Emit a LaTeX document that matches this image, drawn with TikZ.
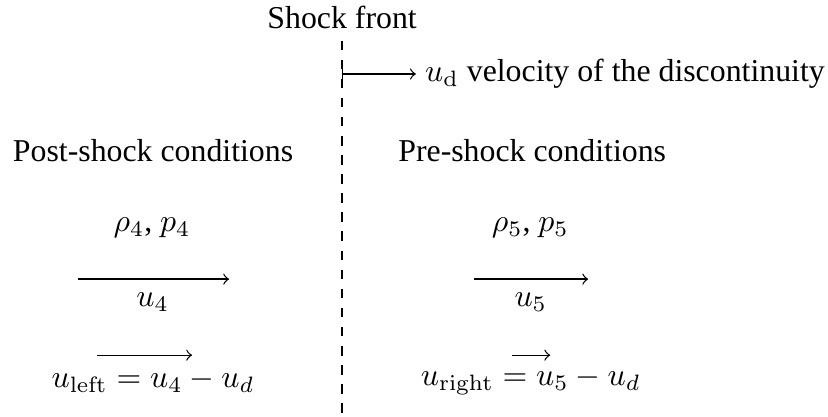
\documentclass[tikz,border=0pt]{standalone}
\usepackage[no-math]{fontspec}
\setmainfont{Liberation Serif}
\usepackage{amsmath}
\usepackage{tikz}
\usetikzlibrary{calc}

\begin{document}
\begin{tikzpicture}[
    scale        = 0.943,
    lbl/.style   = {inner sep=0pt, anchor=center},
    vel/.style   = {->, thin},
    front/.style = {dashed, thin}
  ]
    \useasboundingbox (0,0) rectangle (9.70,-4.875);

    % shock front
    \coordinate (ftop) at (4.008,-0.475);
    \coordinate (fbot) at (4.008,-4.875);
    \draw[front] (ftop) -- (fbot);
    \node[lbl] (title) at (4.008,-0.205) {Shock front};

    \coordinate (ud0) at (4.008,-0.867);
    \node[lbl, anchor=east] (udlbl) at (9.669,-0.867) {$u_\mathrm{d}$ velocity of the discontinuity};
    \draw[|->, thin] (ud0) -- ($(udlbl.west)+(-0.10,0)$);

    % post-shock side
    \node[lbl] (post) at (1.793,-1.770) {Post-shock conditions};
    \node[lbl] (stl)  at (1.781,-2.672) {$\rho_4$, $p_4$};
    \coordinate (al0) at (0.914,-3.270);
    \coordinate (al1) at (2.684,-3.270);
    \draw[vel] (al0) -- (al1);
    \node[lbl] (ul)   at (1.787,-3.540) {$u_4$};
    \coordinate (bl0) at (1.137,-4.161);
    \coordinate (bl1) at (2.250,-4.161);
    \draw[vel] (bl0) -- (bl1);
    \node[lbl] (rell) at (1.793,-4.460) {$u_\mathrm{left} = u_4 - u_d$};

    % pre-shock side
    \node[lbl] (pre)  at (6.235,-1.770) {Pre-shock conditions};
    \node[lbl] (str)  at (6.212,-2.672) {$\rho_5$, $p_5$};
    \coordinate (ar0) at (5.555,-3.270);
    \coordinate (ar1) at (6.891,-3.270);
    \draw[vel] (ar0) -- (ar1);
    \node[lbl] (ur)   at (6.218,-3.540) {$u_5$};
    \coordinate (br0) at (6.001,-4.161);
    \coordinate (br1) at (6.446,-4.161);
    \draw[vel] (br0) -- (br1);
    \node[lbl] (relr) at (6.218,-4.460) {$u_\mathrm{right} = u_5 - u_d$};
  \end{tikzpicture}
\end{document}
